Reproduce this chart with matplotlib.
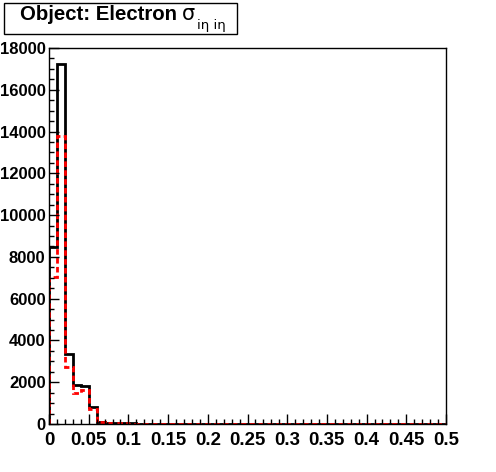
import numpy as np
import matplotlib.pyplot as plt
from matplotlib.patches import Rectangle
from matplotlib.ticker import MultipleLocator

plt.rcParams['font.family'] = ['Liberation Sans', 'DejaVu Sans']

# histogram binning: 50 bins of 0.01 from 0 to 0.5
bin_width = 0.01
n_bins = 50

# black histogram (solid)
black_counts = [8450, 17220, 3340, 1870, 1830, 800, 110, 60, 40, 30,
                25, 20, 20, 15, 15, 12, 10, 10, 10, 8,
                8, 6, 6, 5, 5, 5, 4, 4, 4, 3,
                3, 3, 3, 2, 2, 2, 2, 2, 2, 2,
                1, 1, 1, 1, 1, 1, 1, 1, 1, 1]
# red histogram (dashed)
red_counts = [7050, 13800, 2750, 1500, 1650, 700, 100, 50, 35, 25,
              20, 18, 15, 12, 12, 10, 8, 8, 8, 6,
              6, 5, 5, 4, 4, 4, 3, 3, 3, 3,
              2, 2, 2, 2, 2, 2, 1, 1, 1, 1,
              1, 1, 1, 1, 1, 1, 1, 1, 1, 1]

x_ticks = [0, 0.05, 0.1, 0.15, 0.2, 0.25, 0.3, 0.35, 0.4, 0.45, 0.5]
x_labels = ['0', '0.05', '0.1', '0.15', '0.2', '0.25', '0.3', '0.35', '0.4', '0.45', '0.5']

edges = np.arange(n_bins + 1) * bin_width

W, H = 496, 472
fig = plt.figure(figsize=(W / 100, H / 100), dpi=100)
ax = fig.add_axes([49 / W, 48 / H, 397 / W, 376 / H])

ax.stairs(black_counts, edges, color='black', linewidth=2)
ax.stairs(red_counts, edges, color='red', linewidth=2, linestyle=(0, (2, 1.2)))

ax.set_xlim(0, 0.5)
ax.set_ylim(0, 18000)
ax.set_xticks(x_ticks)
ax.set_xticklabels(x_labels)
ax.xaxis.set_minor_locator(MultipleLocator(0.01))
ax.yaxis.set_major_locator(MultipleLocator(2000))
ax.yaxis.set_minor_locator(MultipleLocator(500))

ax.tick_params(which='both', direction='in', top=False, right=False, width=1)
ax.tick_params(which='major', length=7.5)
ax.tick_params(which='minor', length=3.8)
ax.tick_params(axis='x', pad=5.5, labelsize=13.4)
ax.tick_params(axis='y', pad=2.5, labelsize=12)
for lab in ax.get_xticklabels() + ax.get_yticklabels():
    lab.set_fontweight('bold')
for sp in ax.spines.values():
    sp.set_linewidth(1)

# title box
fig.patches.append(Rectangle((4 / W, 1 - 34 / H), 233 / W, 31 / H,
                             transform=fig.transFigure, facecolor='white',
                             edgecolor='black', linewidth=1))
fig.text(20 / W, 1 - 20 / H, 'Object: Electron', fontsize=14.7,
         fontweight='bold', va='baseline', ha='left')
fig.text(182 / W, 1 - 20 / H, 'σ', fontsize=15, family='DejaVu Sans',
         va='baseline', ha='left')
fig.text(197 / W, 1 - 29 / H, 'iη iη', fontsize=9.5, family='DejaVu Sans',
         va='baseline', ha='left')

fig.savefig('out.png', dpi=100)
